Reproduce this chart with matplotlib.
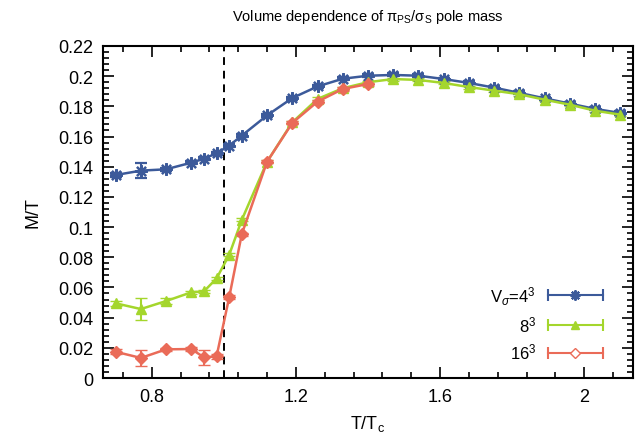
import matplotlib
matplotlib.use('Agg')
import matplotlib.pyplot as plt
from matplotlib.lines import Line2D
from matplotlib.legend_handler import HandlerBase

# T/Tc grid
t_all = [0.70, 0.77, 0.84, 0.91, 0.945, 0.98, 1.015, 1.05, 1.12, 1.19, 1.26, 1.33,
         1.40, 1.47, 1.54, 1.61, 1.68, 1.75, 1.82, 1.89, 1.96, 2.03, 2.10]

# V = 4^3
m4 = [0.1345, 0.1374, 0.1383, 0.1427, 0.1453, 0.1489, 0.1540, 0.1606, 0.1740, 0.1855,
      0.1932, 0.1983, 0.2003, 0.2008, 0.2003, 0.1981, 0.1955, 0.1924, 0.1889, 0.1853,
      0.1818, 0.1783, 0.1756]
e4 = [0.0015, 0.0052, 0.0010, 0.0010, 0.0010, 0.0010, 0.0010, 0.0010, 0.0010, 0.0010,
      0.0010, 0.0010, 0.0010, 0.0010, 0.0010, 0.0010, 0.0010, 0.0010, 0.0010, 0.0010,
      0.0010, 0.0010, 0.0010]

# V = 8^3
m8 = [0.0495, 0.0457, 0.0510, 0.0568, 0.0574, 0.0660, 0.0816, 0.1048, 0.1433, 0.1694,
      0.1849, 0.1920, 0.1960, 0.1981, 0.1975, 0.1955, 0.1928, 0.1904, 0.1880, 0.1844,
      0.1811, 0.1771, 0.1745]
e8 = [0.0015, 0.0074, 0.0020, 0.0010, 0.0010, 0.0010, 0.0010, 0.0010, 0.0010, 0.0010,
      0.0010, 0.0010, 0.0010, 0.0010, 0.0010, 0.0010, 0.0010, 0.0010, 0.0010, 0.0010,
      0.0010, 0.0010, 0.0010]

# V = 16^3 (stops at T/Tc = 1.40)
t16 = t_all[:13]
m16 = [0.0174, 0.0133, 0.0190, 0.0192, 0.0137, 0.0144, 0.0535, 0.0954, 0.1433, 0.1690,
       0.1831, 0.1915, 0.1948]
e16 = [0.0015, 0.0052, 0.0012, 0.0012, 0.0050, 0.0015, 0.0012, 0.0010, 0.0010, 0.0010,
       0.0010, 0.0010, 0.0010]

labels = [r'V$_\sigma$=4$^3$', r'8$^3$', r'16$^3$']
colors = ['#3c5a9a', '#a4d62c', '#ea6b58']

plt.rcParams['font.family'] = ['Liberation Sans', 'DejaVu Sans']
plt.rcParams['mathtext.fontset'] = 'custom'
plt.rcParams['mathtext.rm'] = 'Liberation Sans'
plt.rcParams['mathtext.it'] = 'Liberation Sans:italic'


class GnuKey(HandlerBase):
    # gnuplot style key: horizontal error bar with caps and the point in the middle
    def create_artists(self, legend, orig, xdescent, ydescent, width, height, fontsize, trans):
        y = height / 2 - ydescent
        x0, x1 = -xdescent, -xdescent + width
        bar = Line2D([x0, x1], [y, y], color=orig.get_color(), lw=1.5,
                     marker='|', markersize=9, markeredgewidth=1.5)
        pt = Line2D([(x0 + x1) / 2], [y], color=orig.get_color(), ls='none',
                    marker=orig.get_marker(), markersize=orig.get_markersize() * 0.8,
                    markerfacecolor=orig.get_markerfacecolor(),
                    markeredgecolor=orig.get_markeredgecolor(),
                    markeredgewidth=orig.get_markeredgewidth())
        bar.set_transform(trans)
        pt.set_transform(trans)
        return [bar, pt]


fig = plt.figure(figsize=(6.41, 4.35), dpi=100)
ax = fig.add_axes([0.1607, 0.1287, 0.8268, 0.7633])

ax.axvline(1.0, color='black', lw=1.4, ls=(0, (4, 3)), zorder=1)

series = [
    (t_all, m4, e4, (8, 2, 0), 9, 1.6, colors[0], colors[0]),
    (t_all, m8, e8, '^', 7, 1.0, colors[1], colors[1]),
    (t16, m16, e16, 'D', 6, 1.0, colors[2], colors[2]),
]
handles = []
for (t, m, e, mk, ms, mew, c, fc) in series:
    ax.errorbar(t, m, yerr=e, color=c, lw=1.8, marker=mk, markersize=ms,
                markeredgewidth=mew, markerfacecolor=fc, markeredgecolor=c,
                ecolor=c, elinewidth=1.5, capsize=4, capthick=1.5, zorder=3)
    handles.append(Line2D([], [], color=c, marker=mk, markersize=ms,
                          markeredgewidth=mew,
                          markerfacecolor=('white' if mk == 'D' else fc),
                          markeredgecolor=c))

ax.set_xlim(0.665, 2.135)
ax.set_ylim(0, 0.22)
ax.set_xticks([0.8, 1.2, 1.6, 2.0])
ax.set_xticklabels(['0.8', '1.2', '1.6', '2'])
ax.set_xticks([0.72, 0.88, 0.96, 1.04, 1.12, 1.28, 1.36, 1.44, 1.52, 1.68, 1.76,
               1.84, 1.92, 2.08], minor=True)
yt = [0, 0.02, 0.04, 0.06, 0.08, 0.1, 0.12, 0.14, 0.16, 0.18, 0.2, 0.22]
ax.set_yticks(yt)
ax.set_yticklabels(['0', '0.02', '0.04', '0.06', '0.08', '0.1', '0.12', '0.14',
                    '0.16', '0.18', '0.2', '0.22'])
ax.set_yticks([i * 0.004 for i in range(56) if i % 5 != 0], minor=True)

ax.tick_params(which='both', direction='in', top=True, right=True, labelsize=13,
               width=1.2, colors='black')
ax.tick_params(which='major', length=8, pad=7)
ax.tick_params(which='minor', length=4)
for s in ax.spines.values():
    s.set_linewidth(1.5)

ax.set_xlabel(r'T/T$_{\rm c}$', fontsize=13, labelpad=6)
ax.set_ylabel('M/T', fontsize=13, labelpad=12)
ax.set_title(r'Volume dependence of π$_{\rm PS}$/σ$_{\rm S}$ pole mass', fontsize=10.5, pad=19)

ax.legend(handles, labels, loc='lower right', bbox_to_anchor=(0.965, 0.015),
          frameon=False, markerfirst=False, fontsize=12, handlelength=3.3,
          handletextpad=0.7, labelspacing=0.45, borderpad=0.2,
          handler_map={Line2D: GnuKey()})

fig.savefig('out.png', dpi=100)
